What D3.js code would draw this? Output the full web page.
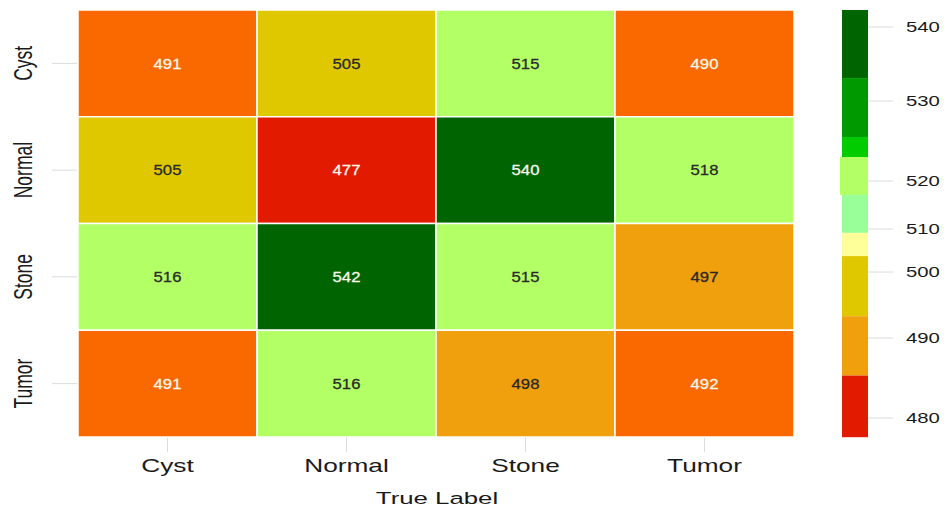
<!DOCTYPE html>
<html>
<head>
<meta charset="utf-8">
<script src="https://cdn.jsdelivr.net/npm/d3@7"></script>
<style>
  html, body { margin: 0; padding: 0; background: #fff; }
  svg { display: block; font-family: "Liberation Sans", Arial, sans-serif; }
</style>
</head>
<body>
<svg id="chart" width="946" height="507"></svg>
<script>
// ---- data ----
const predLabels = ["Cyst", "Normal", "Stone", "Tumor"];   // rows (y axis)
const trueLabels = ["Cyst", "Normal", "Stone", "Tumor"];   // columns (x axis)
const rowCyst   = [491, 505, 515, 490];
const rowNormal = [505, 477, 540, 518];
const rowStone  = [516, 542, 515, 497];
const rowTumor  = [491, 516, 498, 492];
const matrix = [rowCyst, rowNormal, rowStone, rowTumor];
const xTitle = "True Label";

// cell colour classes
const cellThresholds = [480, 495, 500, 512, 530];
const cellColors = ["#e21a00", "#f96900", "#f0a00c", "#e0c800", "#b3ff66", "#006400"];

// legend
const legendTicks = [480, 490, 500, 510, 520, 530, 540];
const legendBreaks = [542.3, 533.1, 525.5, 523.0, 517.1, 509.1, 503.7, 493.3, 485.3, 477.6];
const legendColors = ["#006400", "#009a00", "#00cc00", "#b3ff66", "#99ff99", "#ffff99", "#e0c800", "#f0a00c", "#e21a00"];

// ---- drawing ----
const svg = d3.select("#chart");
const plot = { left: 78, right: 794, top: 10, bottom: 437 };
const STRETCH = 1.5;

const x = d3.scaleBand().domain(trueLabels).range([plot.left, plot.right]);
const y = d3.scaleBand().domain(predLabels).range([plot.top, plot.bottom]);
const color = d3.scaleThreshold().domain(cellThresholds).range(cellColors);

const cells = [];
matrix.forEach((row, i) => row.forEach((v, j) => cells.push({ r: predLabels[i], c: trueLabels[j], v })));

// tick lines (under cells)
const tickG = svg.append("g");
tickG.selectAll("line.yt").data(predLabels).join("line")
  .attr("x1", plot.left - 26).attr("x2", plot.left)
  .attr("y1", d => y(d) + y.bandwidth() / 2).attr("y2", d => y(d) + y.bandwidth() / 2)
  .attr("stroke", "#dcdcdc").attr("stroke-width", 1);
tickG.selectAll("line.xt").data(trueLabels).join("line")
  .attr("x1", d => x(d) + x.bandwidth() / 2).attr("x2", d => x(d) + x.bandwidth() / 2)
  .attr("y1", plot.bottom).attr("y2", plot.bottom + 15)
  .attr("stroke", "#dcdcdc").attr("stroke-width", 1);

// cells
svg.append("g").selectAll("rect").data(cells).join("rect")
  .attr("x", d => x(d.c)).attr("y", d => y(d.r))
  .attr("width", x.bandwidth()).attr("height", y.bandwidth())
  .attr("fill", d => color(d.v))
  .attr("stroke", "#ffffff").attr("stroke-width", 1.5);

svg.append("g").selectAll("text").data(cells).join("text")
  .attr("transform", d => `translate(${x(d.c) + x.bandwidth() / 2},${y(d.r) + y.bandwidth() / 2}) scale(1.15,1)`)
  .attr("dy", "0.36em")
  .attr("text-anchor", "middle")
  .attr("font-size", 14.5)
  .attr("stroke-width", 0.3)
  .attr("fill", d => d3.lab(color(d.v)).l < 65 ? "#faf6ea" : "#2a2a2a")
  .attr("stroke", d => d3.lab(color(d.v)).l < 65 ? "#faf6ea" : "#2a2a2a")
  .text(d => d.v);

// y labels (rotated, stretched horizontally)
svg.append("g").selectAll("text").data(predLabels).join("text")
  .attr("transform", d => `translate(32,${y(d) + y.bandwidth() / 2}) scale(${STRETCH},1) rotate(-90)`)
  .attr("text-anchor", "middle")
  .attr("font-size", 17.5)
  .attr("fill", "#1a1a1a")
  .text(d => d);

// x labels
svg.append("g").selectAll("text").data(trueLabels).join("text")
  .attr("transform", d => `translate(${x(d) + x.bandwidth() / 2},472) scale(${STRETCH},1)`)
  .attr("text-anchor", "middle")
  .attr("font-size", 17.5)
  .attr("fill", "#1a1a1a")
  .text(d => d);

svg.append("text")
  .attr("transform", `translate(${(plot.left + plot.right) / 2 + 1},504) scale(${STRETCH},1)`)
  .attr("text-anchor", "middle")
  .attr("font-size", 17.2)
  .attr("fill", "#1a1a1a")
  .text(xTitle);

// legend
const ly = d3.scaleLinear()
  .domain([480, 490, 500, 510, 520, 530, 540])
  .range([418, 338, 272, 229, 181, 101, 27]);
const lg = svg.append("g");
const segs = legendColors.map((c, i) => ({ top: legendBreaks[i], bot: legendBreaks[i + 1], c }));
lg.selectAll("rect").data(segs).join("rect")
  .attr("x", d => d.c === "#b3ff66" ? 840 : 842)
  .attr("width", d => d.c === "#b3ff66" ? 28 : 26)
  .attr("y", d => ly(d.top))
  .attr("height", d => ly(d.bot) - ly(d.top))
  .attr("fill", d => d.c);
lg.selectAll("line").data(legendTicks).join("line")
  .attr("x1", 868).attr("x2", 893)
  .attr("y1", d => ly(d)).attr("y2", d => ly(d))
  .attr("stroke", "#dcdcdc").attr("stroke-width", 1);
lg.selectAll("text").data(legendTicks).join("text")
  .attr("transform", d => `translate(906,${ly(d)}) scale(1.45,1)`)
  .attr("dy", "0.36em")
  .attr("font-size", 14)
  .attr("fill", "#1a1a1a")
  .text(d => d);
</script>
</body>
</html>
